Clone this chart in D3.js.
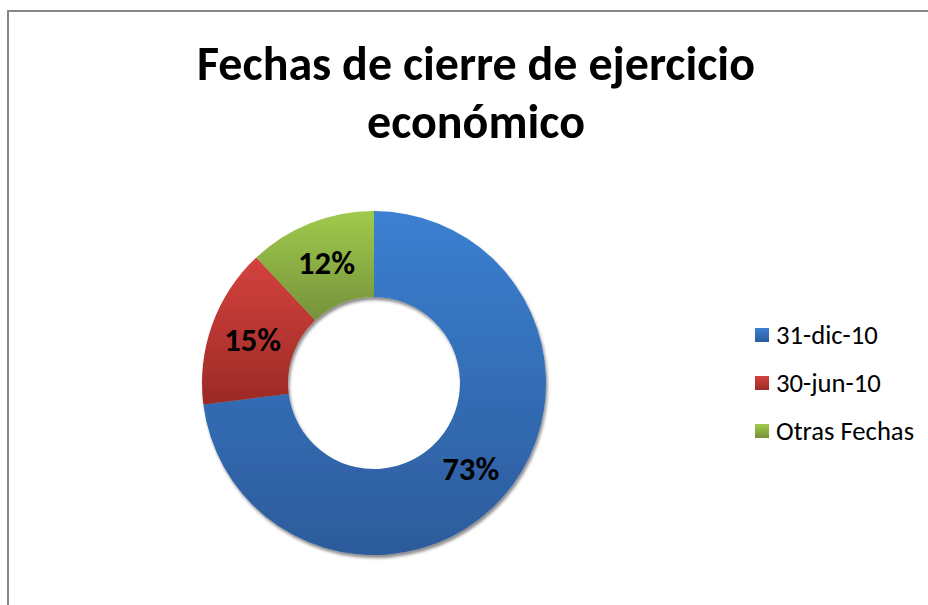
<!DOCTYPE html>
<html>
<head>
<meta charset="utf-8">
<script src="https://cdn.jsdelivr.net/npm/d3@7"></script>
<style>
  body { margin: 0; background: #fff; }
  text { font-family: Carlito, Calibri, Lato, "Open Sans", sans-serif; }
</style>
</head>
<body>
<svg width="928" height="605"></svg>
<script>
var categories = ["31-dic-10", "30-jun-10", "Otras Fechas"];
var values = [73, 15, 12];
var titleLines = ["Fechas de cierre de ejercicio", "económico"];

var svg = d3.select("svg"),
    width = +svg.attr("width"),
    height = +svg.attr("height");

// colours: top / bottom of each slice gradient
var color = d3.scaleOrdinal()
    .domain(categories)
    .range([["#3b80d1", "#2c5b9b"], ["#d4423e", "#9b2a25"], ["#a0ca4c", "#75923b"]]);

var defs = svg.append("defs");

defs.selectAll("linearGradient")
    .data(categories)
    .enter()
        .append("linearGradient")
        .attr("id", function(d, i) { return "grad" + i; })
        .attr("x1", 0).attr("y1", 0).attr("x2", 0).attr("y2", 1)
        .each(function(d) {
            var g = d3.select(this);
            g.append("stop").attr("offset", "0%").attr("stop-color", color(d)[0]);
            g.append("stop").attr("offset", "100%").attr("stop-color", color(d)[1]);
        });

var shadow = defs.append("filter")
    .attr("id", "shadow")
    .attr("x", "-10%").attr("y", "-10%")
    .attr("width", "120%").attr("height", "120%");
shadow.append("feDropShadow")
    .attr("dx", 1.5).attr("dy", 3)
    .attr("stdDeviation", 1.8)
    .attr("flood-color", "#000")
    .attr("flood-opacity", 0.45);

// chart frame (runs off the right and bottom edge)
svg.append("rect")
    .attr("x", 8).attr("y", 11)
    .attr("width", 940).attr("height", 620)
    .attr("fill", "none")
    .attr("stroke", "#868686")
    .attr("stroke-width", 2);

// title
var title = svg.append("g").attr("class", "title");
title.selectAll("text")
    .data(titleLines)
    .enter()
        .append("text")
        .attr("x", 476)
        .attr("y", function(d, i) { return 80 + i * 58; })
        .attr("text-anchor", "middle")
        .attr("font-weight", "bold")
        .attr("font-size", 40)
        .attr("fill", "#000")
        .text(function(d) { return d; });

// fit title width to the reference (first line ~558px)
var firstLine = title.select("text").node();
var w = firstLine.getComputedTextLength();
var fs = 40 * 558 / w;
title.selectAll("text").attr("font-size", fs);

// donut
var cx = 374, cy = 383, outerR = 172, innerR = 86;

var pie = d3.pie().sort(null).value(function(d) { return d; });
var arc = d3.arc().innerRadius(innerR).outerRadius(outerR);
var arcs = pie(values);

var donut = svg.append("g")
    .attr("transform", "translate(" + cx + "," + cy + ")");

donut.append("g")
    .attr("filter", "url(#shadow)")
    .selectAll("path")
    .data(arcs)
    .enter()
        .append("path")
        .attr("d", arc)
        .attr("fill", function(d, i) { return "url(#grad" + i + ")"; });

var total = d3.sum(values);
donut.selectAll(".label")
    .data(arcs)
    .enter()
        .append("text")
        .attr("class", "label")
        .attr("transform", function(d) { return "translate(" + arc.centroid(d) + ")"; })
        .attr("text-anchor", "middle")
        .attr("dy", "0.35em")
        .attr("font-weight", "bold")
        .attr("font-size", fs * 0.68)
        .attr("fill", "#000")
        .text(function(d) { return Math.round(d.value / total * 100) + "%"; });

// legend
var legend = svg.append("g")
    .attr("class", "legend")
    .selectAll("g")
    .data(categories)
    .enter()
        .append("g")
        .attr("transform", function(d, i) { return "translate(755," + (335 + i * 48) + ")"; });

legend.append("rect")
    .attr("x", 0).attr("y", -7)
    .attr("width", 14).attr("height", 14)
    .attr("fill", function(d, i) { return "url(#grad" + i + ")"; });

legend.append("text")
    .attr("x", 21)
    .attr("dy", "0.35em")
    .attr("font-size", fs * 0.555)
    .attr("fill", "#000")
    .text(function(d) { return d; });
</script>
</body>
</html>
